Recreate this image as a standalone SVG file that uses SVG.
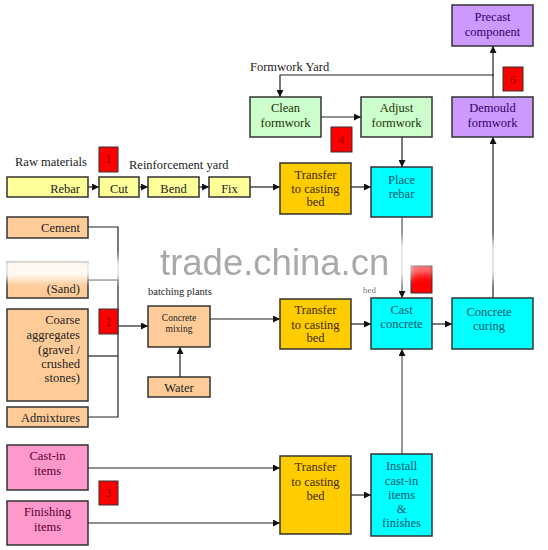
<svg xmlns="http://www.w3.org/2000/svg" width="548" height="550" viewBox="0 0 548 550" font-family="'Liberation Serif', 'Times New Roman', 'DejaVu Serif', serif">
<style>
text{font-family:'Liberation Serif','Times New Roman','DejaVu Serif',serif;font-size:12.5px;fill:#222}
.box{stroke:#333;stroke-width:1.5}
.y{fill:#ffff99}.p{fill:#ffcc99}.g{fill:#ffcc00}.c{fill:#00ffff}.gr{fill:#ccffcc}.v{fill:#cc99ff}.k{fill:#ff99cc}
.r{fill:#ff0000;stroke:#333;stroke-width:1}
.num{fill:#990000;font-size:12px;text-anchor:middle}
.mid{text-anchor:middle}.end{text-anchor:end}
.tc{fill:#00566b}.tk{fill:#5a0030}.tv{fill:#330066}.tg{fill:#1a3300}.tb{fill:#3d2a00}
.conn line,.conn polyline{stroke:#222;stroke-width:1.2;fill:none}
.wm{font-family:'Liberation Sans',Arial,sans-serif;font-size:36.5px;fill:#9a9a9a;opacity:0.85}
</style>
<defs>
<marker id="ah" viewBox="0 0 10 10" refX="10" refY="5" markerWidth="7" markerHeight="7" markerUnits="userSpaceOnUse" orient="auto"><path d="M0,0 L10,5 L0,10 z" fill="#111"/></marker>
<filter id="blur" x="-50%" y="-50%" width="200%" height="200%"><feGaussianBlur stdDeviation="4"/></filter>
</defs>
<rect width="548" height="550" fill="#fff"/>

<text x="15" y="166">Raw materials</text>
<text x="129" y="169">Reinforcement yard</text>
<text x="250" y="71">Formwork Yard</text>
<text x="148" y="295" style="font-size:10.5px">batching plants</text>

<g class="conn">
<line x1="88" y1="187" x2="99" y2="187" marker-end="url(#ah)"/>
<line x1="139" y1="187" x2="148" y2="187" marker-end="url(#ah)"/>
<line x1="199" y1="187" x2="209" y2="187" marker-end="url(#ah)"/>
<line x1="250" y1="187" x2="280" y2="187" marker-end="url(#ah)"/>
<line x1="351" y1="187" x2="371" y2="187" marker-end="url(#ah)"/>
<polyline points="493,97 493,75 280,75 280,97" marker-end="url(#ah)"/>
<line x1="493" y1="76" x2="493" y2="46" marker-end="url(#ah)"/>
<line x1="321" y1="117" x2="361" y2="117" marker-end="url(#ah)"/>
<line x1="402" y1="137" x2="402" y2="167" marker-end="url(#ah)"/>
<line x1="402" y1="217" x2="402" y2="298" marker-end="url(#ah)" style="stroke:#555"/>
<line x1="493" y1="298" x2="493" y2="137" marker-end="url(#ah)"/>
<polyline points="88,227 118,227 118,417 88,417"/>
<line x1="88" y1="356" x2="118" y2="356"/>
<line x1="88" y1="280" x2="118" y2="280"/>
<line x1="118" y1="326" x2="148" y2="326" marker-end="url(#ah)"/>
<line x1="180" y1="377" x2="180" y2="347" marker-end="url(#ah)"/>
<line x1="210" y1="319" x2="280" y2="319" marker-end="url(#ah)"/>
<line x1="351" y1="324" x2="371" y2="324" marker-end="url(#ah)"/>
<line x1="432" y1="324" x2="452" y2="324" marker-end="url(#ah)"/>
<line x1="402" y1="454" x2="402" y2="349" marker-end="url(#ah)" style="stroke:#555"/>
<line x1="88" y1="468" x2="280" y2="468" marker-end="url(#ah)"/>
<line x1="88" y1="523" x2="280" y2="523" marker-end="url(#ah)"/>
<line x1="351" y1="495" x2="371" y2="495" marker-end="url(#ah)"/>
</g>

<g id="rebar"><rect x="7" y="177" width="81" height="20" class="box y"/><text x="80" y="193" class="end">Rebar</text></g>
<g id="cut"><rect x="99" y="177" width="40" height="20" class="box y"/><text x="119" y="193" class="mid">Cut</text></g>
<g id="bend"><rect x="148" y="177" width="51" height="20" class="box y"/><text x="173.5" y="193" class="mid">Bend</text></g>
<g id="fix"><rect x="209" y="177" width="41" height="20" class="box y"/><text x="229.5" y="193" class="mid">Fix</text></g>

<g id="clean"><rect x="250" y="97" width="71" height="40" class="box gr"/><text x="285.5" y="112" class="mid tg">Clean</text><text x="285.5" y="127" class="mid tg">formwork</text></g>
<g id="adjust"><rect x="361" y="97" width="71" height="40" class="box gr"/><text x="396.5" y="112" class="mid tg">Adjust</text><text x="396.5" y="127" class="mid tg">formwork</text></g>
<g id="precast"><rect x="452" y="5" width="81" height="41" class="box v"/><text x="492.5" y="21" class="mid tv">Precast</text><text x="492.5" y="36" class="mid tv">component</text></g>
<g id="demould"><rect x="452" y="97" width="81" height="40" class="box v"/><text x="492.5" y="112" class="mid tv">Demould</text><text x="492.5" y="127" class="mid tv">formwork</text></g>

<g id="transfer1"><rect x="280" y="163" width="71" height="51" class="box g"/><text x="315.5" y="179" class="mid tb">Transfer</text><text x="315.5" y="193" class="mid tb">to casting</text><text x="315.5" y="206" class="mid tb">bed</text></g>
<g id="place"><rect x="371" y="167" width="61" height="50" class="box c"/><text x="401.5" y="184" class="mid tc">Place</text><text x="401.5" y="198" class="mid tc">rebar</text></g>

<g id="cement"><rect x="7" y="217" width="81" height="21" class="box p"/><text x="80" y="232" class="end">Cement</text></g>
<g id="sand"><rect x="7" y="262" width="81" height="36" class="box p"/><text x="80" y="293" class="end">(Sand)</text></g>
<g id="coarse"><rect x="7" y="309" width="81" height="92" class="box p"/><text x="80" y="324" class="end">Coarse</text><text x="80" y="339" class="end">aggregates</text><text x="80" y="354" class="end">(gravel /</text><text x="80" y="368" class="end">crushed</text><text x="80" y="382" class="end">stones)</text></g>
<g id="admix"><rect x="7" y="407" width="81" height="20" class="box p"/><text x="80" y="422" class="end">Admixtures</text></g>
<g id="mixing"><rect x="148" y="306" width="62" height="41" class="box p"/><text x="179" y="321" class="mid" style="font-size:9.5px">Concrete</text><text x="179" y="332" class="mid" style="font-size:9.5px">mixing</text></g>
<g id="water"><rect x="148" y="377" width="62" height="20" class="box p"/><text x="179" y="392" class="mid">Water</text></g>

<g id="transfer2"><rect x="280" y="299" width="71" height="50" class="box g"/><text x="315.5" y="314" class="mid tb">Transfer</text><text x="315.5" y="329" class="mid tb">to casting</text><text x="315.5" y="342" class="mid tb">bed</text></g>
<g id="cast"><rect x="371" y="298" width="61" height="51" class="box c"/><text x="401.5" y="314" class="mid tc">Cast</text><text x="401.5" y="328" class="mid tc">concrete</text></g>
<g id="curing"><rect x="452" y="298" width="81" height="51" class="box c"/><text x="489" y="316" class="mid tc">Concrete</text><text x="489" y="330" class="mid tc">curing</text></g>

<g id="castin"><rect x="7" y="445" width="81" height="45" class="box k"/><text x="47.5" y="460" class="mid tk">Cast-in</text><text x="47.5" y="475" class="mid tk">items</text></g>
<g id="finishing"><rect x="7" y="501" width="81" height="44" class="box k"/><text x="47.5" y="516" class="mid tk">Finishing</text><text x="47.5" y="531" class="mid tk">items</text></g>
<g id="transfer3"><rect x="280" y="456" width="71" height="78" class="box g"/><text x="315.5" y="471" class="mid tb">Transfer</text><text x="315.5" y="486" class="mid tb">to casting</text><text x="315.5" y="500" class="mid tb">bed</text></g>
<g id="install"><rect x="371" y="454" width="61" height="82" class="box c"/><text x="401.5" y="470" class="mid tc">Install</text><text x="401.5" y="485" class="mid tc">cast-in</text><text x="401.5" y="499" class="mid tc">items</text><text x="401.5" y="513" class="mid tc">&amp;</text><text x="401.5" y="527" class="mid tc">finishes</text></g>

<g id="step1"><rect x="99" y="147" width="19" height="25" class="r"/><text x="108.5" y="163" class="num">1</text></g>
<g id="step2"><rect x="99" y="309" width="19" height="25" class="r"/><text x="108.5" y="326" class="num">2</text></g>
<g id="step3"><rect x="99" y="481" width="19" height="24" class="r"/><text x="108.5" y="497" class="num">3</text></g>
<g id="step4"><rect x="331" y="127" width="21" height="25" class="r"/><text x="341.5" y="144" class="num">4</text></g>
<g id="step5"><rect x="411" y="266" width="21" height="27" class="r"/></g>
<g id="step6"><rect x="503" y="67" width="20" height="24" class="r"/><text x="513" y="84" class="num">6</text></g>

<g id="haze" filter="url(#blur)" fill="#fff">
<rect x="0" y="258" width="126" height="22" opacity="0.9"/>
<rect x="395" y="240" width="15" height="40" opacity="0.85"/>
<rect x="486" y="240" width="15" height="40" opacity="0.85"/>
<rect x="408" y="262" width="28" height="12" opacity="0.5"/>
</g>
<text x="363" y="293" style="font-size:9px;fill:#777">bed</text>
<text x="160" y="275" class="wm">trade.china.cn</text>
</svg>
